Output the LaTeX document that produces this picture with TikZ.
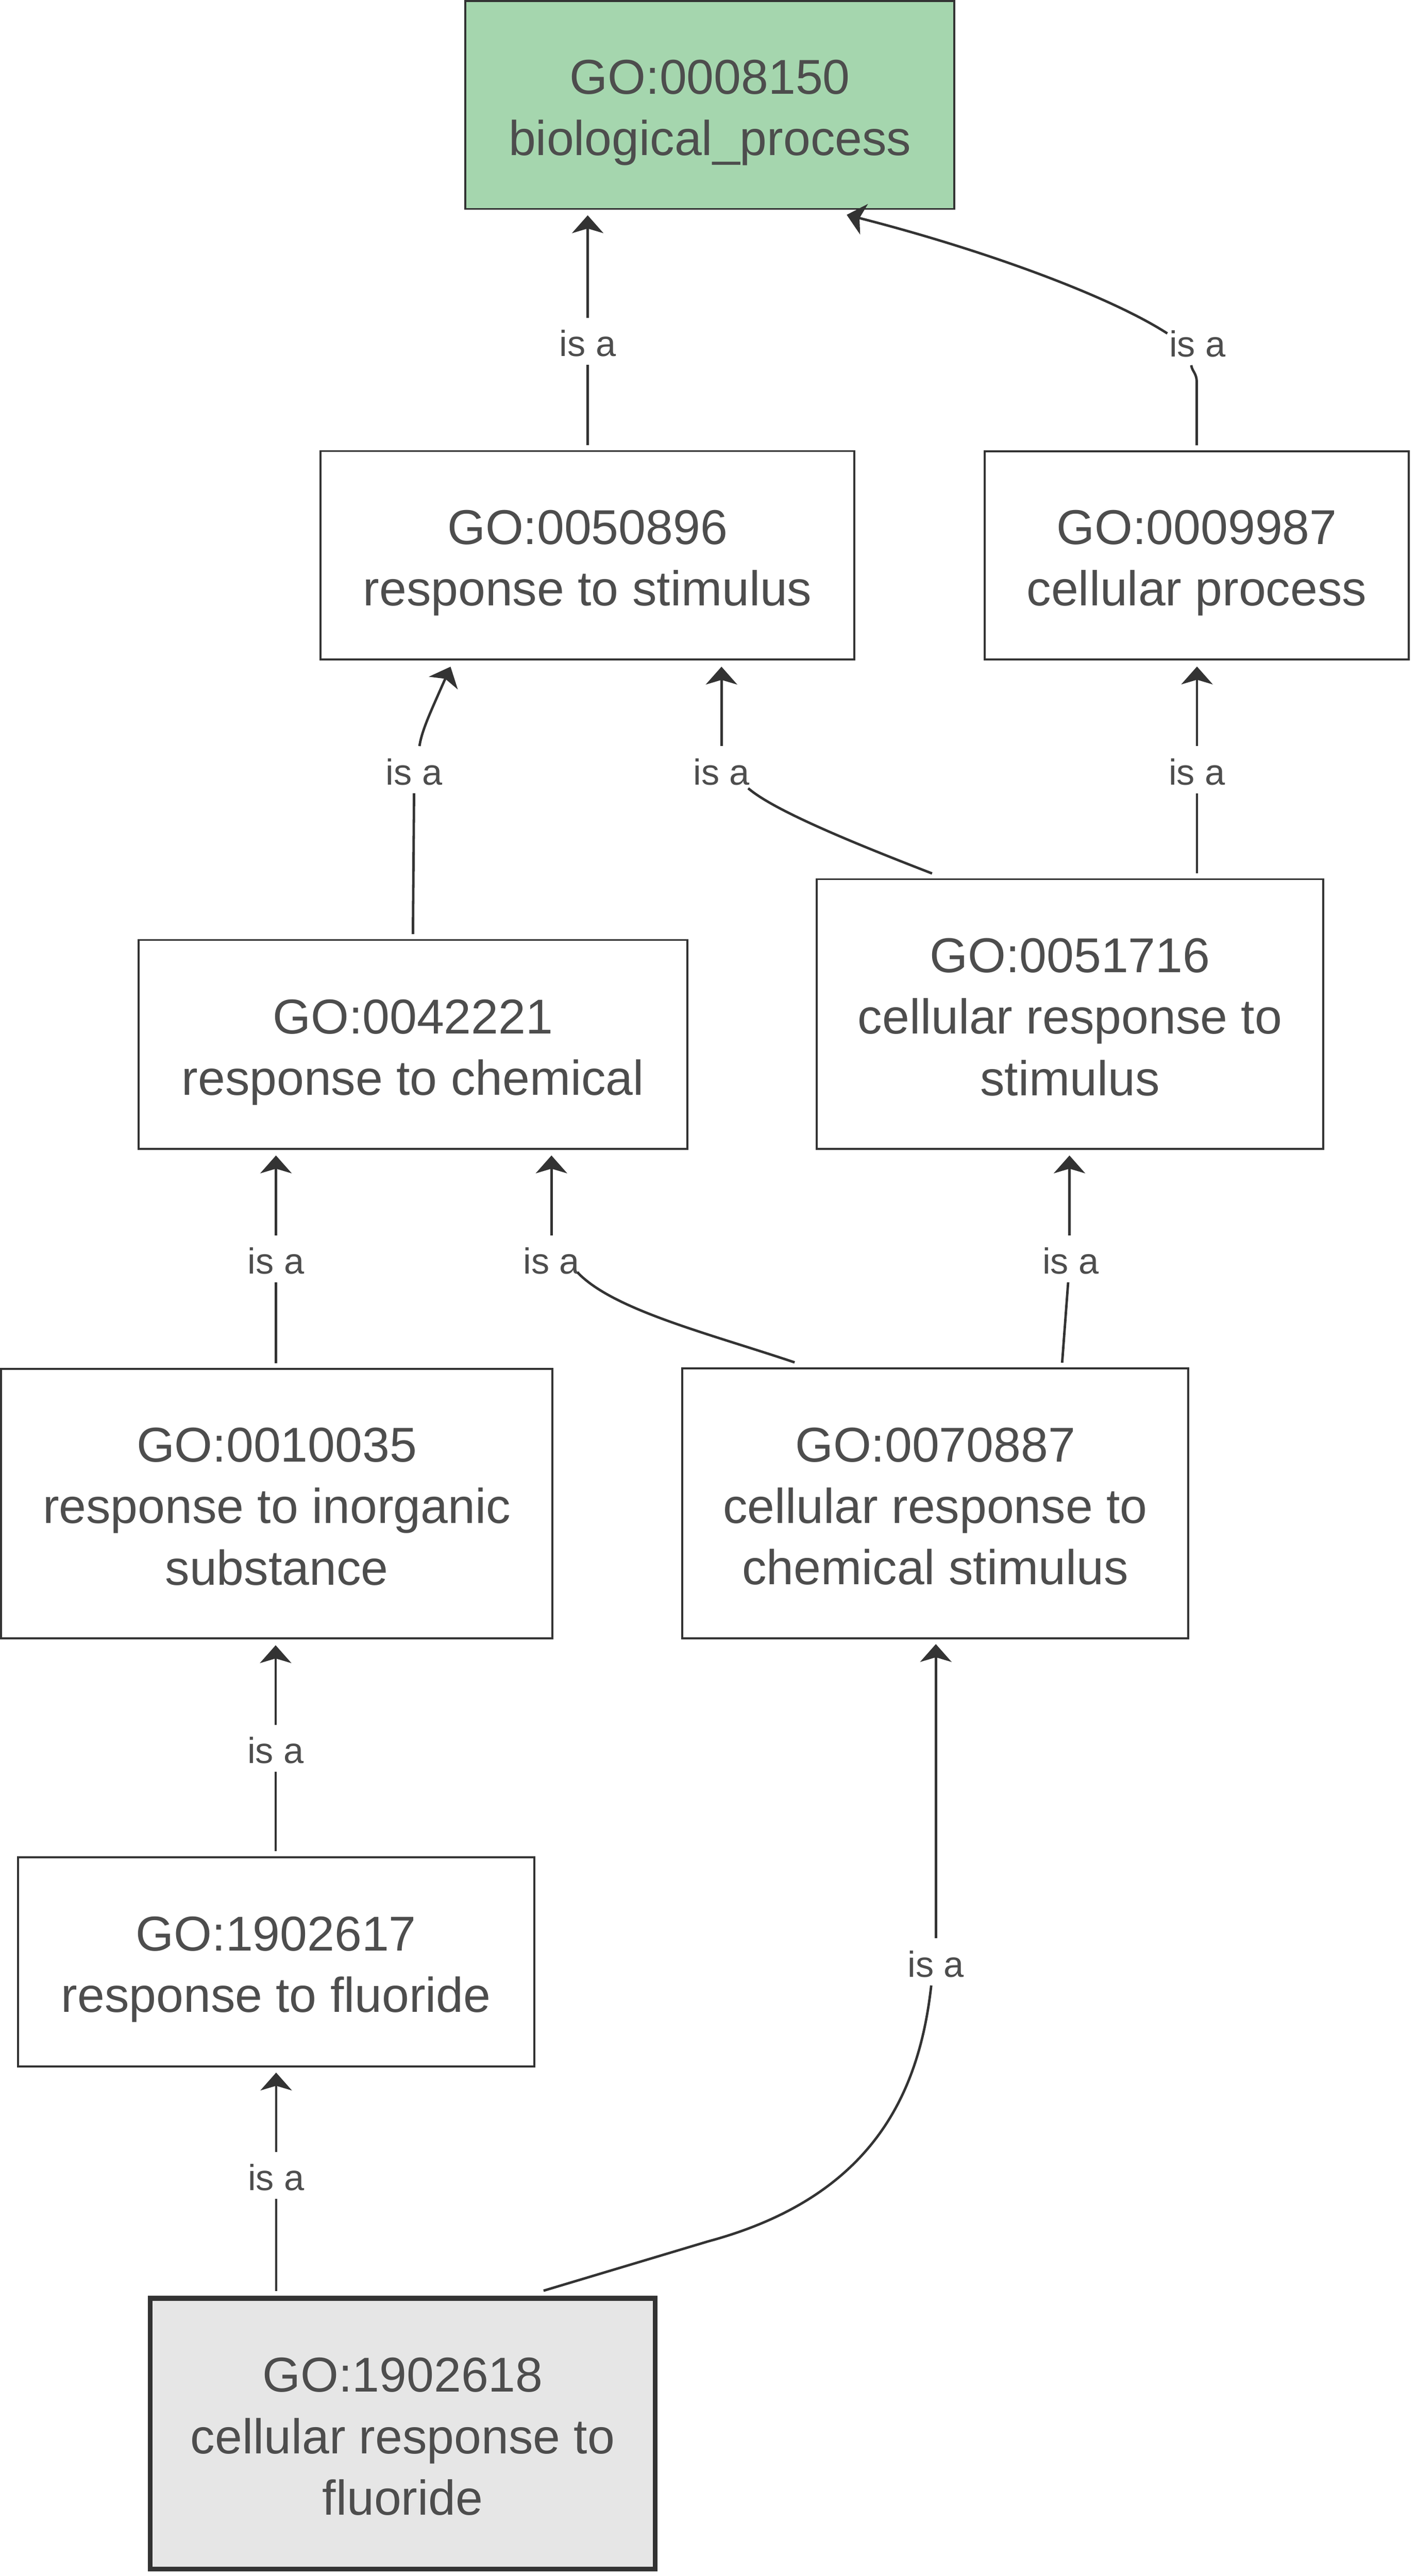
\documentclass[tikz,border=0pt]{standalone}
\usepackage{fontspec}
\usetikzlibrary{arrows.meta,calc}
\newfontfamily\gofont{Liberation Sans}
\newcommand{\boxfont}{\gofont\fontsize{29.7pt}{37.3pt}\selectfont}
\newcommand{\lblfont}{\gofont\fontsize{22pt}{26pt}\selectfont}
\newcommand{\tstrut}{\rule{0pt}{32pt}}
\newcommand{\bstrut}{\rule[-8pt]{0pt}{8pt}}
\definecolor{linec}{HTML}{333333}
\definecolor{textc}{HTML}{4D4D4D}
\definecolor{greenc}{HTML}{A5D6AE}
\definecolor{grayc}{HTML}{E6E6E6}
\tikzset{
  gobox/.style={draw=linec, line width=1.2pt, rectangle, inner sep=0pt, align=center, text=textc, font=\boxfont},
  lbl/.style={text=textc, font=\lblfont, inner xsep=1pt, inner ysep=5pt, text height=18.2pt, text depth=0pt, anchor=base},
  edge/.style={draw=linec, line width=1.5pt},
  arr/.style={edge, -{Stealth[length=10.8pt,width=19pt,inset=2.8pt]}},
}
\begin{document}
\begin{tikzpicture}[x=1pt,y=-1pt]
\fill[white] (0,0) rectangle (860,1563.7);
\useasboundingbox (0,0) rectangle (860,1563.7);

% boxes
\node[gobox, fill=greenc, minimum width=296.8pt, minimum height=126.2pt] (B1) at (430.9,63.7) {\tstrut GO:0008150\\biological\_process\bstrut};
\node[gobox, minimum width=324.1pt, minimum height=126.6pt] (B2) at (356.55,337.1) {\tstrut GO:0050896\\response to stimulus\bstrut};
\node[gobox, minimum width=257.3pt, minimum height=126.3pt] (B3) at (726.35,337.05) {\tstrut GO:0009987\\cellular process\bstrut};
\node[gobox, minimum width=333pt, minimum height=126.9pt] (B4) at (250.6,634.05) {\tstrut GO:0042221\\response to chemical\bstrut};
\node[gobox, minimum width=307.4pt, minimum height=163.8pt] (B5) at (649.4,615.6) {\tstrut GO:0051716\\cellular response to\\stimulus\bstrut};
\node[gobox, minimum width=334.7pt, minimum height=163.5pt] (B6) at (167.95,912.75) {\tstrut GO:0010035\\response to inorganic\\substance\bstrut};
\node[gobox, minimum width=307.3pt, minimum height=164.1pt] (B7) at (567.65,912.55) {\tstrut GO:0070887\\cellular response to\\chemical stimulus\bstrut};
\node[gobox, minimum width=313.3pt, minimum height=126.9pt] (B8) at (167.55,1190.85) {\tstrut GO:1902617\\response to fluoride\bstrut};
\node[gobox, line width=3pt, fill=grayc, minimum width=306.5pt, minimum height=164.4pt] (B9) at (244.45,1477.3) {\tstrut GO:1902618\\cellular response to\\fluoride\bstrut};

% labels
\node[lbl] (L1) at (356.7,216.3) {is a};
\node[lbl] (L2) at (726.8,216.5) {is a};
\node[lbl] (L3) at (251.3,476.3) {is a};
\node[lbl] (L4) at (437.9,476.3) {is a};
\node[lbl] (L5) at (726.5,476.3) {is a};
\node[lbl] (L6) at (167.5,773.2) {is a};
\node[lbl] (L7) at (334.7,773.2) {is a};
\node[lbl] (L8) at (649.8,773.2) {is a};
\node[lbl] (L9) at (167.3,1070.3) {is a};
\node[lbl] (L10) at (568,1200) {is a};
\node[lbl] (L11) at (167.6,1329.7) {is a};

% E1: B2 -> B1
\draw[edge, shorten <=3pt] (L1.south |- B2.north) -- (L1.south);
\draw[arr, shorten >=3.3pt] (L1.north) -- (L1.north |- B1.south);

% E2: B3 -> B1
\draw[edge, shorten <=3pt] (B3.north) -- ($(B3.north)+(0,-41)$)
  .. controls ($(B3.north)+(0,-47)$) and ($(L2.south)+(-3.2,4)$) .. ($(L2.south)+(-3.8,0)$);
\draw[arr] ($(L2.west)+(0,-5)$) .. controls ($(L2.west)+(-34,-27)$) and ($(B1.south)+(169,25)$) .. ($(B1.south)+(83,3)$);

% E3: B4 -> B2
\draw[edge, shorten <=3pt] (B4.north) -- (L3.south);
\draw[arr] ($(L3.north)+(3.3,0)$) .. controls ($(L3.north)+(4.7,-9.8)$) and ($(B2.south)+(-94.5,29.6)$) .. ($(B2.south)+(-83.1,3.7)$);

% E4: B5 -> B2
\draw[edge] ($(B5.north)+(-83.7,-2.9)$) .. controls ($(B5.north)+(-129.4,-20.6)$) and ($(L4.south east)+(13.7,10.7)$) .. ($(L4.south east)+(-2.1,-3)$);
\draw[arr, shorten >=3.7pt] (L4.north) -- (L4.north |- B2.south);

% E5: B5 -> B3
\draw[edge, shorten <=3pt] (L5.south |- B5.north) -- (L5.south);
\draw[arr, shorten >=3.8pt] (L5.north) -- (L5.north |- B3.south);

% E6: B6 -> B4
\draw[edge, shorten <=3pt] (L6.south |- B6.north) -- (L6.south);
\draw[arr, shorten >=3.3pt] (L6.north) -- (L6.north |- B4.south);

% E7: B7 -> B4
\draw[edge] ($(B7.north)+(-85.35,-2.9)$) .. controls ($(B7.north)+(-137.65,-20.5)$) and ($(L7.south east)+(19.2,16.8)$) .. ($(L7.south east)+(-2.5,-6)$);
\draw[arr, shorten >=3.3pt] (L7.north) -- (L7.north |- B4.south);

% E8: B7 -> B5
\draw[edge] ($(B7.north)+(77,-2.7)$) -- ($(L8.south)+(-1.5,0)$);
\draw[arr, shorten >=3.3pt] ($(L8.north)+(-0.7,0)$) -- ($(L8.north |- B5.south)+(-0.7,0)$);

% E9: B8 -> B6
\draw[edge, shorten <=3pt] (L9.south |- B8.north) -- (L9.south);
\draw[arr, shorten >=3.6pt] (L9.north) -- (L9.north |- B6.south);

% E10: B9 -> B7
\draw[edge] ($(B9.north)+(85.45,-3.1)$) -- ($(B9.north)+(185.55,-33.1)$)
  .. controls ($(B9.north)+(285.55,-60.1)$) and ($(L10.south)+(-10,65)$) .. ($(L10.south)+(-2.8,0)$);
\draw[arr, shorten >=2.8pt] (L10.north) -- (L10.north |- B7.south);

% E11: B9 -> B8
\draw[edge, shorten <=3pt] (L11.south |- B9.north) -- (L11.south);
\draw[arr, shorten >=3.2pt] (L11.north) -- (L11.north |- B8.south);
\end{tikzpicture}
\end{document}
